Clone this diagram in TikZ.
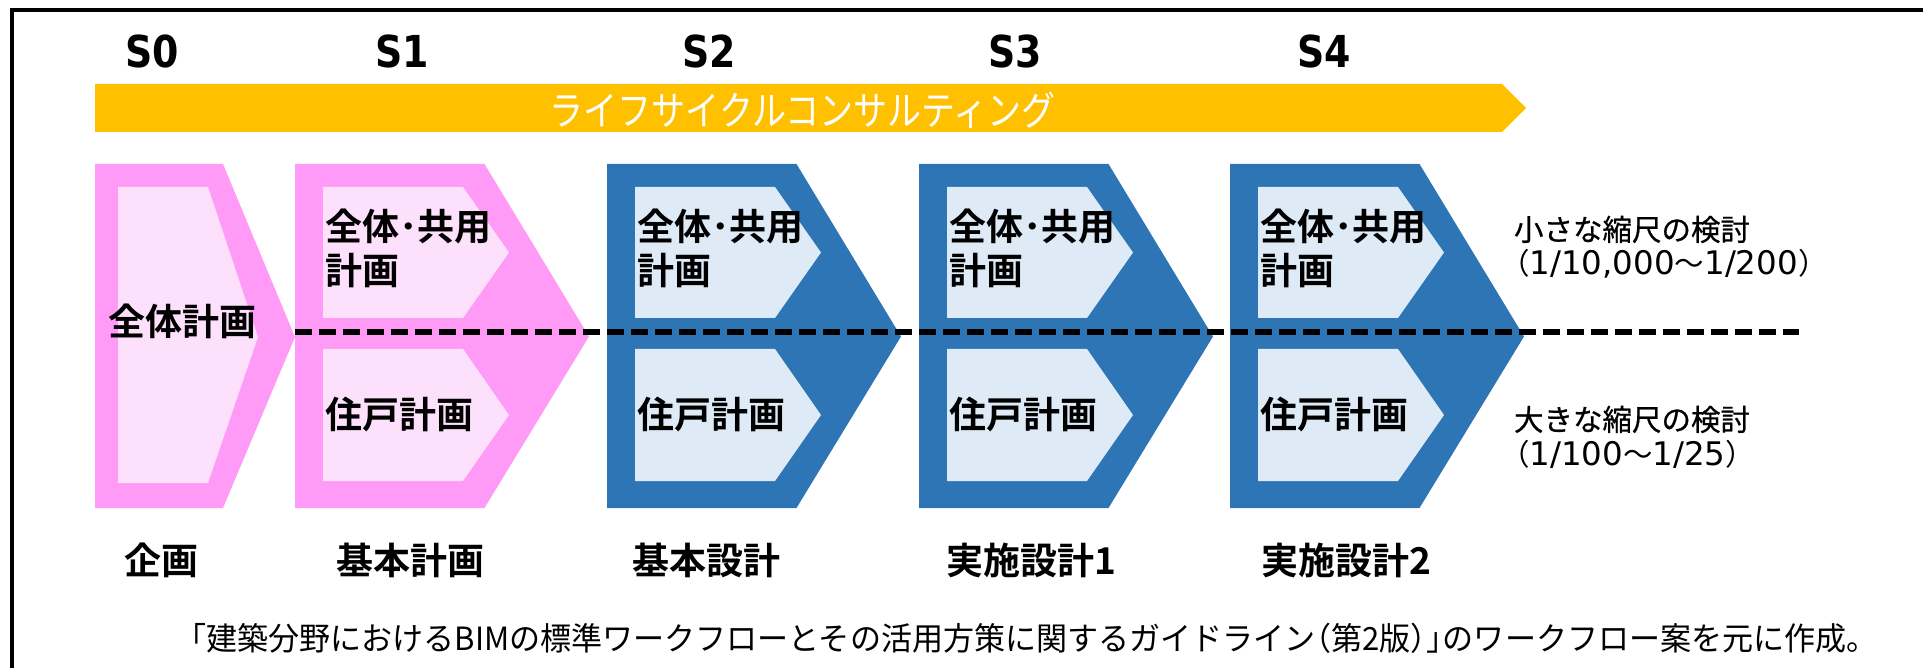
\documentclass[tikz,border=0pt]{standalone}
\usepackage{fontspec}
\newfontfamily\jpr{Noto Sans CJK JP}
\newfontfamily\jpside[FakeBold=0.6]{Noto Sans CJK JP}
\newfontfamily\jpb{Noto Sans CJK JP Bold}
\newfontfamily\jpbar[FakeStretch=0.85]{Noto Sans CJK JP}
\newfontfamily\jpcap[FakeStretch=0.97]{Noto Sans CJK JP}
\newfontfamily\lat{DejaVu Sans}
\newfontfamily\latb[FakeStretch=0.86]{DejaVu Sans Bold}
\newcommand{\opb}[1]{\makebox[0.5em][r]{#1}}
\newcommand{\clb}[1]{\makebox[0.5em][l]{#1}}
\definecolor{pinkO}{RGB}{255,155,247}
\definecolor{pinkI}{RGB}{253,224,251}
\definecolor{blueO}{RGB}{46,117,182}
\definecolor{blueI}{RGB}{222,235,247}
\definecolor{barC}{RGB}{255,192,0}
\begin{document}
\begin{tikzpicture}[x=1pt,y=-1pt,
  every node/.style={inner sep=0pt, outer sep=0pt},
  slabel/.style={font={\latb\fontsize{44}{54}\selectfont}, anchor=base},
  bartext/.style={font={\jpbar\fontsize{40}{48}\selectfont}, text=white, text height=33.1pt, text depth=2.9pt, anchor=center},
  boxtext/.style={font={\jpb\fontsize{37}{44}\selectfont}, text height=30.6pt, text depth=2.7pt, anchor=west},
  boxtwo/.style={font={\jpb\fontsize{37}{44}\selectfont}, anchor=base west},
  stagename/.style={font={\jpb\fontsize{37}{44}\selectfont}, text height=30.6pt, text depth=2.7pt, anchor=west},
  sidetext/.style={font={\jpside\fontsize{29.5}{34}\selectfont}, text height=24.4pt, text depth=2.2pt, anchor=west},
  sidenum/.style={font={\lat\fontsize{32.5}{38}\selectfont}, anchor=base west},
  captext/.style={font={\jpcap\fontsize{32}{38}\selectfont}, text height=26.5pt, text depth=2.3pt, anchor=center},
  frame/.style={line width=4pt, black},
  divider/.style={line width=6pt, black, dash pattern=on 17pt off 7pt}
]
\useasboundingbox (0,0) rectangle (1923,668);
% frame (cropped)
\draw[frame] (12,668) -- (12,10.5) -- (1923,10.5);

% stage labels
\node[slabel] (s0) at (152,68) {S0};
\node[slabel] (s1) at (402.5,68) {S1};
\node[slabel] (s2) at (709,68) {S2};
\node[slabel] (s3) at (1015,68) {S3};
\node[slabel] (s4) at (1324,68) {S4};

% lifecycle bar
\fill[barC] (95,84) -- (1502,84) -- (1526,108) -- (1502,132) -- (95,132) -- cycle;
\node[bartext] (bar) at (802.5,110) {ライフサイクルコンサルティング};

% S0 shape
\fill[pinkO] (95,164) -- (223,164) -- (295,337) -- (223,508) -- (95,508) -- cycle;
\fill[pinkI] (118,187) -- (208,187) -- (258,337) -- (208,483) -- (118,483) -- cycle;

% S1..S4 shapes
\foreach \L/\oc/\ic in {295/pinkO/pinkI, 607/blueO/blueI, 919/blueO/blueI, 1230/blueO/blueI} {
  \fill[\oc] (\L,164) -- (\L+189.5,164) -- (\L+294,336.5) -- (\L+189.5,508) -- (\L,508) -- cycle;
  \fill[\ic] (\L+28,187) -- (\L+168,187) -- (\L+214,252.5) -- (\L+168,318) -- (\L+28,318) -- cycle;
  \fill[\ic] (\L+28,349) -- (\L+168,349) -- (\L+214,415) -- (\L+168,481) -- (\L+28,481) -- cycle;
}

% dashed divider
\coordinate (dstart) at (295,332);
\coordinate (dend) at (1799,332);
\draw[divider] (dstart) -- (dend);

% box texts
\node[boxtext] (t0) at (108,322) {全体計画};
\node[boxtwo] (u1) at (325,240.5) {\begin{tabular}[t]{@{}l@{}}全体･共用\\計画\end{tabular}};
\node[boxtwo] (u2) at (637,240.5) {\begin{tabular}[t]{@{}l@{}}全体･共用\\計画\end{tabular}};
\node[boxtwo] (u3) at (949,240.5) {\begin{tabular}[t]{@{}l@{}}全体･共用\\計画\end{tabular}};
\node[boxtwo] (u4) at (1260,240.5) {\begin{tabular}[t]{@{}l@{}}全体･共用\\計画\end{tabular}};
\node[boxtext] (l1) at (325,414.5) {住戸計画};
\node[boxtext] (l2) at (637,414.5) {住戸計画};
\node[boxtext] (l3) at (949,414.5) {住戸計画};
\node[boxtext] (l4) at (1260,414.5) {住戸計画};

% side texts
\node[sidetext] (sm) at (1514,229.5) {小さな縮尺の検討};
\node[sidenum] (smn) at (1500,275) {{\jpr\fontsize{29.5}{34}\selectfont （}1/10,000{\jpr\fontsize{29.5}{34}\selectfont ～}1/200{\jpr\fontsize{29.5}{34}\selectfont ）}};
\node[sidetext] (lg) at (1514,419.5) {大きな縮尺の検討};
\node[sidenum] (lgn) at (1500,465) {{\jpr\fontsize{29.5}{34}\selectfont （}1/100{\jpr\fontsize{29.5}{34}\selectfont ～}1/25{\jpr\fontsize{29.5}{34}\selectfont ）}};

% stage names
\node[stagename] (n0) at (124,561) {企画};
\node[stagename] (n1) at (336,561) {基本計画};
\node[stagename] (n2) at (632,561) {基本設計};
\node[stagename] (n3) at (946,561) {実施設計1};
\node[stagename] (n4) at (1261,561) {実施設計2};

% caption
\node[captext] (cap) at (1034,638) {\opb{「}建築分野におけるBIMの標準ワークフローとその活用方策に関するガイドライン\opb{（}第2版\clb{）}\clb{」}のワークフロー案を元に作成。};
\end{tikzpicture}
\end{document}
